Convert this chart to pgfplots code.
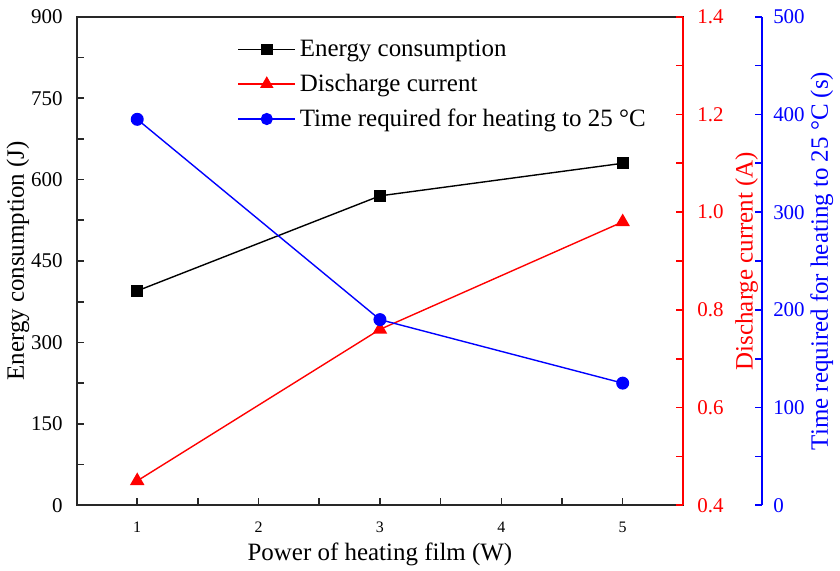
\documentclass[border=0pt]{standalone}
\usepackage{fontspec}
\setmainfont{Liberation Serif}
\usepackage{pgfplots}
\pgfplotsset{compat=1.18}

\definecolor{axisgray}{RGB}{40,40,40}

\pgfplotsset{
  base/.style={
    scale only axis,
    width=304pt, height=244.75pt,
    xmin=0.5, xmax=5.5,
    tick align=inside,
    major tick length=3.5pt, minor tick length=3.5pt,
    axis line style={line width=1pt},
    every tick/.style={line width=0.8pt},
    /pgf/number format/assume math mode=true,
    tick label style={font=\fontsize{10.5}{12}\selectfont},
    label style={font=\fontsize{12.5}{15}\selectfont},
  },
  dataline/.style={line width=0.7pt},
}

\begin{document}
\begin{tikzpicture}
% energy, left axis
\begin{axis}[
  base,
  ymin=0, ymax=900,
  ytick={0,150,...,900},
  minor y tick num=1,
  xtick={1,2,3,4,5},
  minor x tick num=1,
  tick pos=left,
  axis line style={axisgray, line width=1pt},
  every tick/.style={axisgray, line width=0.8pt},
  yticklabel style={xshift=-3.5pt},
  ylabel shift=-6pt,
  xticklabel style={font=\fontsize{8}{9}\selectfont, yshift=-5pt},
  xlabel style={inner sep=2.7pt, yshift=1.5pt},
  xlabel={Power of heating film (W)},
  ylabel={Energy consumption (J)},
  legend style={at={(0.255,0.97)}, anchor=north west, draw=none, fill=none,
    font=\fontsize{12.5}{15}\selectfont, row sep=3.3pt},
  legend cell align=left,
  legend image code/.code={
    \draw[mark repeat=2, mark phase=2, #1] plot coordinates {(0cm,0cm) (0.5cm,0cm) (1cm,0cm)};
  },
]
\addplot[black, dataline, mark=square*, mark size=2.6pt] coordinates {
  (1,395) (3,570) (5,630)
};
\addlegendentry{Energy consumption}
\addlegendimage{red, dataline, mark=triangle*, mark size=3.2pt}
\addlegendentry{Discharge current}
\addlegendimage{blue, dataline, mark=*, mark size=2.7pt}
\addlegendentry{Time required for heating to 25 °C}
\end{axis}

% discharge current, red right axis
\begin{axis}[
  base,
  ymin=0.4, ymax=1.4,
  ytick={0.4,0.6,0.8,1.0,1.2,1.4},
  minor y tick num=1,
  axis y line*=right,
  axis x line=none,
  y axis line style={red, line width=1pt},
  ytick style={red, line width=0.8pt},
  yticklabel style={red, xshift=3.5pt, /pgf/number format/.cd, fixed, fixed zerofill, precision=1},
  ylabel style={red},
  ylabel shift=-1pt,
  ylabel={Discharge current (A)},
]
\addplot[red, dataline, mark=triangle*, mark size=3.5pt] coordinates {
  (1,0.45) (3,0.76) (5,0.98)
};
\end{axis}

% heating time data
\begin{axis}[
  base,
  ymin=0, ymax=500,
  hide axis,
]
\addplot[blue, dataline, mark=*, mark size=2.9pt] coordinates {
  (1,395) (3,190) (5,125)
};
\end{axis}

% heating time, blue offset axis
\begin{axis}[
  base,
  at={(39.5pt,0pt)},
  ymin=0, ymax=500,
  ytick={0,100,...,500},
  minor y tick num=1,
  axis y line*=right,
  axis x line=none,
  y axis line style={blue, line width=1pt},
  ytick style={blue, line width=0.8pt},
  yticklabel style={blue, xshift=2pt},
  ylabel style={blue},
  ylabel shift=-4pt,
  ylabel={Time required for heating to 25 °C (s)},
]
\addplot[draw=none] coordinates {(1,0)};
\end{axis}
\path ([yshift=1.5pt]current bounding box.north);
\end{tikzpicture}
\end{document}
